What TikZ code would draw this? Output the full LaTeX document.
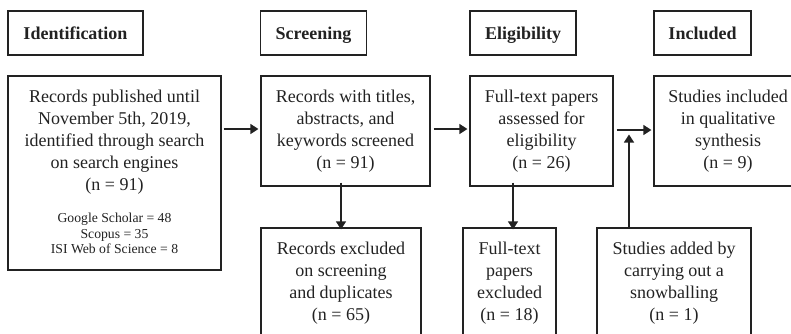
\documentclass[tikz,border=0pt]{standalone}
\usepackage{fontspec}
\setmainfont{Liberation Serif}
\usetikzlibrary{arrows.meta}
\definecolor{ink}{HTML}{222222}
\begin{document}
\begin{tikzpicture}[x=1pt,y=-1pt,
  box/.style={draw=ink,line width=1.2pt,inner sep=0pt,align=center,text=ink,
    font=\fontsize{18}{22}\selectfont},
  head/.style={box,font=\fontsize{18}{22}\selectfont\bfseries,text height=12pt,text depth=0pt},
  arr/.style={draw=ink,line width=1.3pt,-{Triangle[length=8pt,width=10pt]}},
  small/.style={inner sep=0pt,align=center,text=ink,font=\fontsize{13.7}{15.5}\selectfont}]
\clip (0,0) rectangle (791,333);
\useasboundingbox (0,0) rectangle (791,333);
% headers
\node[head,minimum width=135pt,minimum height=44pt] (h1) at (75.5,33) {Identification};
\node[head,minimum width=106pt,minimum height=44pt] (h2) at (313.5,33) {Screening};
\node[head,minimum width=106pt,minimum height=44pt] (h3) at (523,33) {Eligibility};
\node[head,minimum width=97pt,minimum height=44pt] (h4) at (702.5,33) {Included};
% main row
\node[box,minimum width=213pt,minimum height=194pt] (a) at (114.5,173) {};
\node[box,draw=none,anchor=north] (at) at (114.5,89) {Records published until\\November 5th, 2019,\\identified through search\\on search engines\\(n = 91)};
\node[small,anchor=north] (as) at (114.5,213) {Google Scholar = 48\\Scopus = 35\\ISI Web of Science = 8};
\node[box,minimum width=169pt,minimum height=110pt] (b) at (345.5,131) {Records with titles,\\abstracts, and\\keywords screened\\(n = 91)};
\node[box,minimum width=143pt,minimum height=110pt] (c) at (541.5,131) {Full-text papers\\assessed for\\eligibility\\(n = 26)};
\node[box,minimum width=148pt,minimum height=110pt] (d) at (728,131) {Studies included\\in qualitative\\synthesis\\(n = 9)};
% bottom row
\node[box,minimum width=160pt,minimum height=110pt] (e) at (341,283) {Records excluded\\on screening\\and duplicates\\(n = 65)};
\node[box,minimum width=93pt,minimum height=110pt] (f) at (509.5,283) {Full-text\\papers\\excluded\\(n = 18)};
\node[box,minimum width=154pt,minimum height=110pt] (g) at (674,283) {Studies added by\\carrying out a\\snowballing\\(n = 1)};
% arrows
\draw[arr] ([xshift=2pt,yshift=2pt]a.east |- b.west) -- ([xshift=-2pt,yshift=2pt]b.west);
\draw[arr] ([xshift=3pt,yshift=2pt]b.east) -- ([xshift=-2pt,yshift=2pt]c.west);
\draw[arr] ([xshift=3pt,yshift=1pt]c.east) -- ([xshift=-2pt,yshift=1pt]d.west);
\draw[arr] ([yshift=4pt]e.north |- b.south) -- ([yshift=-2pt]e.north);
\draw[arr] ([xshift=3.5pt,yshift=4pt]f.north |- c.south) -- ([xshift=3.5pt,yshift=-2pt]f.north);
\coordinate (m) at (629,134.5);
\draw[arr] (m |- g.north) -- (m);
\end{tikzpicture}
\end{document}
